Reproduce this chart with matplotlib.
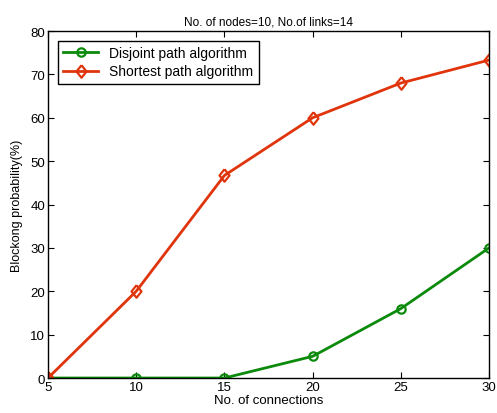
import matplotlib.pyplot as plt

plt.rcParams['font.family'] = ['Liberation Sans', 'DejaVu Sans']

# data
connections = [5, 10, 15, 20, 25, 30]
disjoint = [0, 0, 0, 5, 16, 30]
shortest = [0, 20, 46.7, 60, 68, 73.3]

fig = plt.figure(figsize=(4.97, 4.14), dpi=100)
ax = fig.add_axes([0.0966, 0.0845, 0.8874, 0.8382])

# slightly tall diamond, like MATLAB's
diamond = [(0, 1), (0.8, 0), (0, -1), (-0.8, 0), (0, 1)]

ax.plot(connections, disjoint, color='#0b8a0b', lw=2, marker='o', ms=6,
        mfc='none', mew=1.6, label='Disjoint path algorithm')
ax.plot(connections, shortest, color='#e0340c', lw=2, marker=diamond, ms=9,
        mfc='none', mew=1.6, label='Shortest path algorithm')

ax.set_xlim(5, 30)
ax.set_ylim(0, 80)
ax.set_xticks(connections)
ax.set_yticks(range(0, 81, 10))
ax.tick_params(direction='in', length=4, labelsize=9.5, top=True, right=True,
               pad=2)
for s in ax.spines.values():
    s.set_linewidth(1)

ax.set_title('No. of nodes=10, No.of links=14', fontsize=8.5, pad=5)
ax.set_xlabel('No. of connections', fontsize=9.5, labelpad=1)
ax.set_ylabel('Blockong probability(%)', fontsize=9, labelpad=5)

leg = ax.legend(loc='upper left', fontsize=10, fancybox=False,
                edgecolor='black', framealpha=1, handlelength=2.5,
                borderaxespad=0.7, labelspacing=0.3)
leg.get_frame().set_linewidth(1)

fig.savefig('out.png', dpi=100)
